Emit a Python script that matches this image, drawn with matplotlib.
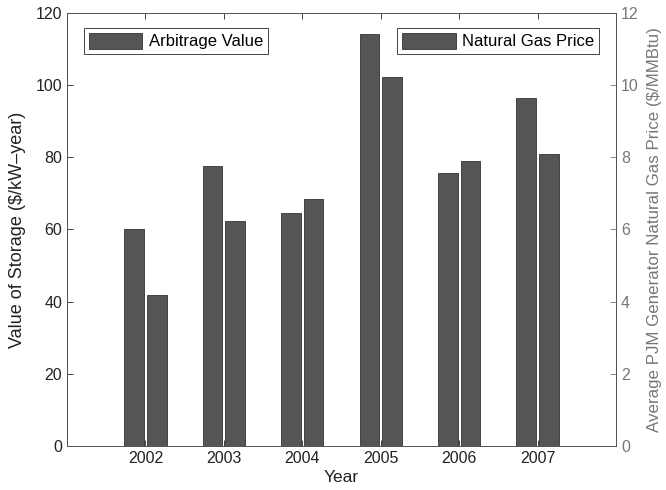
import numpy as np
import matplotlib.pyplot as plt

# Storage arbitrage value vs. average PJM generator natural gas price
years = [2002, 2003, 2004, 2005, 2006, 2007]
arbitrage_value = [60.2, 77.6, 64.7, 114.2, 75.6, 96.4]   # $/kW-year
gas_price = [4.18, 6.24, 6.85, 10.22, 7.91, 8.08]        # $/MMBtu

plt.rcParams['font.family'] = ['Liberation Sans', 'DejaVu Sans']
plt.rcParams['font.size'] = 12

x = np.array(years, dtype=float)
w = 0.25
off = 0.145
bar_color = '#555555'

fig = plt.figure(figsize=(6.66, 4.90), dpi=100)
ax1 = fig.add_axes([0.1006, 0.0898, 0.8244, 0.8837])
ax2 = ax1.twinx()

b1 = ax1.bar(x - off, arbitrage_value, width=w, color=bar_color,
             edgecolor='#333333', linewidth=0.6, label='Arbitrage Value')
b2 = ax2.bar(x + off, gas_price, width=w, color=bar_color,
             edgecolor='#333333', linewidth=0.6, label='Natural Gas Price')

ax1.set_xlim(2001, 2008)
ax1.set_ylim(0, 120)
ax2.set_ylim(0, 12)
ax1.set_xticks(years)
ax1.set_yticks(range(0, 121, 20))
ax2.set_yticks(range(0, 13, 2))

ax1.tick_params(axis='both', direction='in', length=4, width=0.6,
                top=True, colors='#222222', labelsize=11.5)
ax2.tick_params(axis='y', direction='in', length=4, width=0.6,
                colors='#777777', labelsize=11.5)

for ax in (ax1, ax2):
    for s in ax.spines.values():
        s.set_linewidth(0.7)
        s.set_color('#555555')

ax1.set_xlabel('Year', color='#222222', labelpad=3, fontsize=12.5)
ax1.set_ylabel('Value of Storage ($/kW\u2013year)', color='#222222',
               fontsize=13, labelpad=7)
ax2.set_ylabel('Average PJM Generator Natural Gas Price ($/MMBtu)',
               color='#777777', fontsize=12.2, labelpad=6)

leg_kw = dict(fancybox=False, edgecolor='#444444', framealpha=1,
              handlelength=3.2, handleheight=1.1, borderpad=0.3,
              handletextpad=0.4, fontsize=12)
l1 = ax1.legend(handles=[b1], loc='upper left',
                bbox_to_anchor=(0.015, 0.985), **leg_kw)
l1.get_frame().set_linewidth(0.7)
l2 = ax2.legend(handles=[b2], loc='upper right',
                bbox_to_anchor=(0.985, 0.985), **leg_kw)
l2.get_frame().set_linewidth(0.7)

fig.savefig('out.png', dpi=100)
